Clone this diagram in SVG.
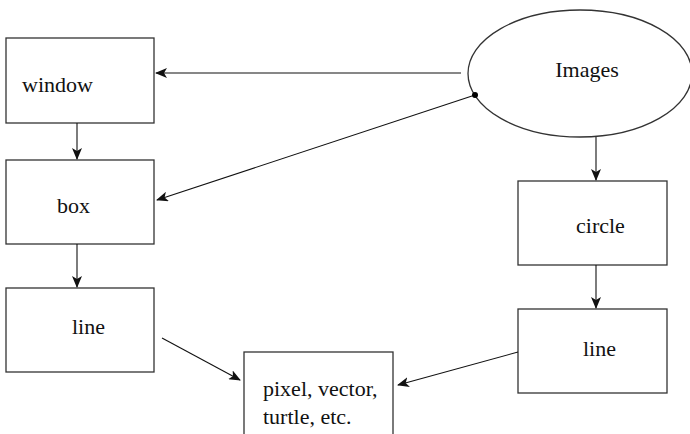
<svg xmlns="http://www.w3.org/2000/svg" width="690" height="434" viewBox="0 0 690 434">
<style>
.n{fill:#fff;stroke:#333;stroke-width:1.3}
.t{font-family:"Liberation Serif","DejaVu Serif",serif;font-size:22px;fill:#111}
.c{stroke:#111;stroke-width:1.1;fill:none}
</style>
<defs>
<marker id="a" viewBox="0 0 12 10" refX="11" refY="5" markerWidth="12" markerHeight="10" markerUnits="userSpaceOnUse" orient="auto">
<path d="M0,0 L12,5 L0,10 L3,5 Z" fill="#111"/>
</marker>
</defs>
<rect width="690" height="434" fill="#fff"/>
<g id="window"><rect class="n" x="6" y="38" width="148" height="85"/><text class="t" x="22" y="92">window</text></g>
<g id="box"><rect class="n" x="6" y="160" width="148" height="84"/><text class="t" x="57" y="213">box</text></g>
<g id="line1"><rect class="n" x="6" y="288" width="148" height="84"/><text class="t" x="72" y="334">line</text></g>
<g id="pixel"><rect class="n" x="244" y="352" width="149" height="100"/><text class="t" x="263" y="396">pixel, vector,</text><text class="t" x="263" y="424">turtle, etc.</text></g>
<g id="images"><ellipse class="n" cx="580" cy="73.5" rx="112" ry="63.5"/><text class="t" x="587" y="77" text-anchor="middle">Images</text></g>
<g id="circle"><rect class="n" x="518" y="181" width="149" height="84"/><text class="t" x="576" y="233">circle</text></g>
<g id="line2"><rect class="n" x="518" y="309" width="149" height="84"/><text class="t" x="583" y="356">line</text></g>
<g id="connectors">
<line class="c" x1="461" y1="73" x2="156" y2="73" marker-end="url(#a)"/>
<line class="c" x1="475" y1="95" x2="157" y2="200" marker-end="url(#a)"/>
<circle cx="475" cy="95" r="3" fill="#000"/>
<line class="c" x1="77" y1="123" x2="77" y2="159" marker-end="url(#a)"/>
<line class="c" x1="77" y1="244" x2="77" y2="287" marker-end="url(#a)"/>
<line class="c" x1="162" y1="338" x2="240" y2="380" marker-end="url(#a)"/>
<line class="c" x1="596" y1="137" x2="596" y2="180" marker-end="url(#a)"/>
<line class="c" x1="596" y1="265" x2="596" y2="308" marker-end="url(#a)"/>
<line class="c" x1="518" y1="352" x2="398" y2="385" marker-end="url(#a)"/>
</g>
</svg>
